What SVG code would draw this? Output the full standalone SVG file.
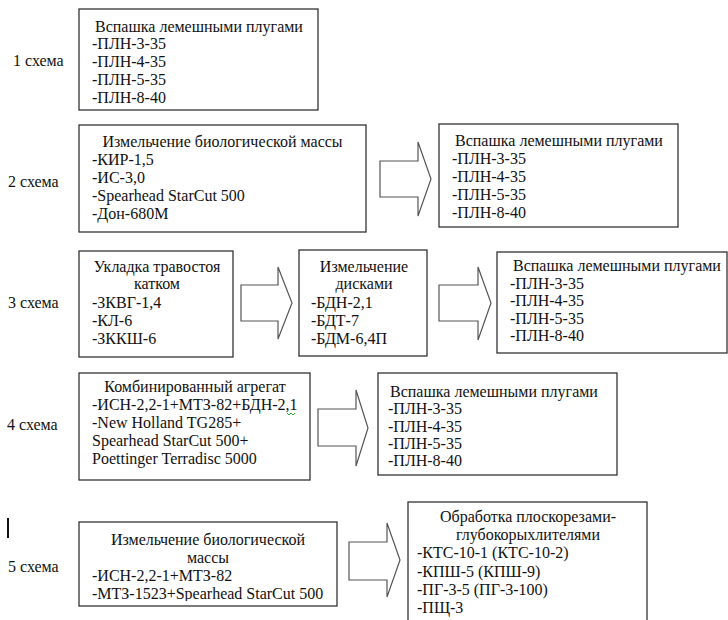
<svg xmlns="http://www.w3.org/2000/svg" width="728" height="620" viewBox="0 0 728 620">
<style>
  .box{fill:#fff;stroke:#333;stroke-width:1.3}
  .arr{fill:#fff;stroke:#555;stroke-width:1.2;stroke-linejoin:miter}
  text{font-family:"Liberation Serif","Times New Roman",serif;font-size:16px;fill:#111}
  .c{text-anchor:middle}
</style>
<defs>
  <clipPath id="clip5a"><rect x="79" y="522" width="258" height="79"/></clipPath>
</defs>
<rect width="728" height="620" fill="#fff"/>

<g id="labels">
  <text x="13" y="66">1 схема</text>
  <text x="8" y="187">2 схема</text>
  <text x="8" y="308">3 схема</text>
  <text x="7" y="430">4 схема</text>
  <text x="8" y="572">5 схема</text>
  <rect x="7" y="518" width="2" height="20" fill="#111"/>
</g>

<g id="connectors">
  <polygon class="arr" points="380,161 418,161 418,142 431,179 418,216 418,197 380,197"/>
  <polygon class="arr" points="241,285 278,285 278,267 292,303 278,339 278,321 241,321"/>
  <polygon class="arr" points="439,285 478,285 478,267 491,303 478,340 478,321 439,321"/>
  <polygon class="arr" points="318,409 356,409 356,390 368,428 356,466 356,446 318,446"/>
  <polygon class="arr" points="349,542 387,542 387,523 400,560 387,597 387,580 349,580"/>
</g>

<g id="node1">
  <rect class="box" x="79" y="9" width="239" height="101"/>
  <text x="95" y="32">Вспашка лемешными плугами</text>
  <text x="92" y="49">-ПЛН-3-35</text>
  <text x="92" y="67">-ПЛН-4-35</text>
  <text x="92" y="85">-ПЛН-5-35</text>
  <text x="92" y="103">-ПЛН-8-40</text>
</g>

<g id="node2a">
  <rect class="box" x="79" y="125" width="287" height="107"/>
  <text class="c" x="222.5" y="147">Измельчение биологической массы</text>
  <text x="92" y="165">-КИР-1,5</text>
  <text x="92" y="183">-ИС-3,0</text>
  <text x="92" y="201">-Spearhead StarCut 500</text>
  <text x="92" y="219">-Дон-680М</text>
</g>

<g id="node2b">
  <rect class="box" x="439" y="124" width="239" height="103"/>
  <text x="455" y="146">Вспашка лемешными плугами</text>
  <text x="452" y="164">-ПЛН-3-35</text>
  <text x="452" y="182">-ПЛН-4-35</text>
  <text x="452" y="200">-ПЛН-5-35</text>
  <text x="452" y="218">-ПЛН-8-40</text>
</g>

<g id="node3a">
  <rect class="box" x="79" y="251" width="154" height="106"/>
  <text class="c" x="157" y="272">Укладка травостоя</text>
  <text class="c" x="157" y="289">катком</text>
  <text x="92" y="308">-ЗКВГ-1,4</text>
  <text x="92" y="326">-КЛ-6</text>
  <text x="92" y="344">-ЗККШ-6</text>
</g>

<g id="node3b">
  <rect class="box" x="299" y="250" width="128" height="106"/>
  <text class="c" x="364" y="272">Измельчение</text>
  <text class="c" x="364" y="289">дисками</text>
  <text x="311" y="308">-БДН-2,1</text>
  <text x="311" y="326">-БДТ-7</text>
  <text x="311" y="344">-БДМ-6,4П</text>
</g>

<g id="node3c">
  <rect class="box" x="497" y="252" width="230" height="101"/>
  <text x="513" y="271">Вспашка лемешными плугами</text>
  <text x="510" y="289">-ПЛН-3-35</text>
  <text x="510" y="306">-ПЛН-4-35</text>
  <text x="510" y="324">-ПЛН-5-35</text>
  <text x="510" y="341">-ПЛН-8-40</text>
</g>

<g id="node4a">
  <rect class="box" x="79" y="373" width="231" height="107"/>
  <text class="c" x="195" y="392">Комбинированный агрегат</text>
  <text x="92" y="410">-ИСН-2,2-1+МТЗ-82+БДН-2,1</text>
  <polyline points="287,413 289,415 291,413 293,415 295,413" fill="none" stroke="#3a3" stroke-width="1"/>
  <text x="92" y="428">-New Holland TG285+</text>
  <text x="92" y="446">Spearhead StarCut 500+</text>
  <text x="92" y="464">Poettinger Terradisc 5000</text>
</g>

<g id="node4b">
  <rect class="box" x="378" y="373" width="239" height="102"/>
  <text x="390" y="397">Вспашка лемешными плугами</text>
  <text x="388" y="414">-ПЛН-3-35</text>
  <text x="388" y="432">-ПЛН-4-35</text>
  <text x="388" y="449">-ПЛН-5-35</text>
  <text x="388" y="466">-ПЛН-8-40</text>
</g>

<g id="node5a">
  <rect class="box" x="79" y="522" width="258" height="84"/>
  <g clip-path="url(#clip5a)">
    <text class="c" x="208" y="545">Измельчение биологической</text>
    <text class="c" x="208" y="563">массы</text>
    <text x="92" y="581">-ИСН-2,2-1+МТЗ-82</text>
    <text x="92" y="599">-МТЗ-1523+Spearhead StarCut 500</text>
  </g>
</g>

<g id="node5b">
  <rect class="box" x="408" y="502" width="239" height="130"/>
  <text class="c" x="528" y="522">Обработка плоскорезами-</text>
  <text class="c" x="528" y="540">глубокорыхлителями</text>
  <text x="417" y="558">-КТС-10-1 (КТС-10-2)</text>
  <text x="417" y="577">-КПШ-5 (КПШ-9)</text>
  <text x="417" y="595">-ПГ-3-5 (ПГ-3-100)</text>
  <text x="417" y="613">-ПЩ-3</text>
</g>
</svg>
